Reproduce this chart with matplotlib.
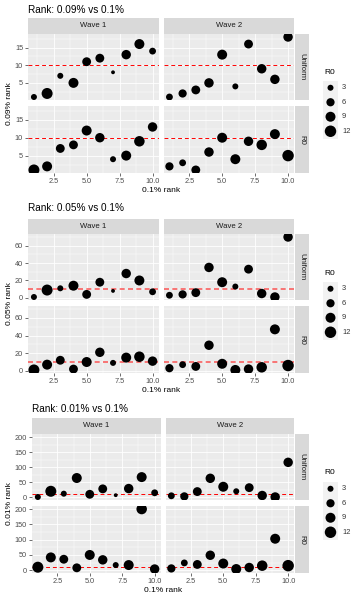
import matplotlib.pyplot as plt
import numpy as np

plt.rcParams['font.family'] = ['Liberation Sans', 'DejaVu Sans']

# data
x_rank = [1, 2, 3, 4, 5, 6, 7, 8, 9, 10]
waves = ['Wave 1', 'Wave 2']
rows = ['Uniform', 'R0']

# R0 (point size), same for all three comparisons
r0_uniform_w1 = [3, 11, 3, 9, 7, 7, 1, 8, 9, 4]
r0_uniform_w2 = [4, 6, 7, 8, 9, 3, 7, 8, 8, 8]
r0_r0_w1 = [11, 9, 7, 7, 9, 8, 3, 9, 10, 8]
r0_r0_w2 = [6, 4, 7, 8, 9, 9, 8, 10, 9, 12]

rank09_uniform_w1 = [1, 2, 7, 5, 11, 12, 8, 13, 16, 14]
rank09_uniform_w2 = [1, 2, 3, 5, 13, 4, 16, 9, 6, 18]
rank09_r0_w1 = [1, 2, 7, 8, 12, 10, 4, 5, 9, 13]
rank09_r0_w2 = [2, 3, 1, 6, 10, 4, 9, 8, 11, 5]

rank05_uniform_w1 = [1, 9, 11, 14, 4, 18, 8, 28, 20, 7]
rank05_uniform_w2 = [3, 4, 6, 35, 18, 13, 33, 5, 1, 70]
rank05_r0_w1 = [1, 7, 12, 2, 10, 21, 9, 15, 16, 11]
rank05_r0_w2 = [3, 7, 5, 29, 8, 1, 2, 4, 47, 6]

rank01_uniform_w1 = [1, 20, 12, 64, 10, 28, 7, 29, 67, 15]
rank01_uniform_w2 = [5, 3, 19, 63, 35, 20, 32, 6, 1, 116]
rank01_r0_w1 = [10, 42, 36, 8, 50, 34, 17, 17, 200, 4]
rank01_r0_w2 = [6, 24, 19, 49, 22, 4, 9, 15, 103, 15]

titles = ['Rank: 0.09% vs 0.1%', 'Rank: 0.05% vs 0.1%', 'Rank: 0.01% vs 0.1%']
ylabels = ['0.09% rank', '0.05% rank', '0.01% rank']
y_major = [[5, 10, 15], [0, 20, 40, 60], [0, 50, 100, 150, 200]]
y_minor = [[2.5, 7.5, 12.5, 17.5], [10, 30, 50, 70], [25, 75, 125, 175]]
x_major = [2.5, 5.0, 7.5, 10.0]
x_minor = [1.25, 3.75, 6.25, 8.75]
legend_values = [3, 6, 9, 12]
threshold = 10

sizes = [[r0_uniform_w1, r0_uniform_w2], [r0_r0_w1, r0_r0_w2]]
ranks = [
    [[rank09_uniform_w1, rank09_uniform_w2], [rank09_r0_w1, rank09_r0_w2]],
    [[rank05_uniform_w1, rank05_uniform_w2], [rank05_r0_w1, rank05_r0_w2]],
    [[rank01_uniform_w1, rank01_uniform_w2], [rank01_r0_w1, rank01_r0_w2]],
]

# layout of each block in pixels (from top)
layout = [
    dict(title=10, strip=18, u=(34, 100), r=(106, 173), xlab=191, left=28, leg=72),
    dict(title=208, strip=219, u=(234, 300), r=(306, 373), xlab=390, left=28, leg=273),
    dict(title=409, strip=418, u=(434, 500), r=(506, 573), xlab=591, left=32, leg=473),
]
hline_style = [
    dict(color='#FF0000', lw=0.7, alpha=1.0, ls=(0, (4, 3))),
    dict(color='#FF0000', lw=1.2, alpha=0.6, ls=(0, (3, 2))),
    dict(color='#FF0000', lw=0.7, alpha=1.0, ls=(0, (4, 3))),
]

W, H = 360, 600
fig = plt.figure(figsize=(3.6, 6.0), dpi=100)


def px_axes(x0, y0, x1, y1, **kw):
    return fig.add_axes([x0 / W, 1 - y1 / H, (x1 - x0) / W, (y1 - y0) / H], **kw)


def size_map(v):
    return 2.1 + 5.5 * np.asarray(v, dtype=float)


def blank(ax):
    ax.set_xticks([])
    ax.set_yticks([])
    for s in ax.spines.values():
        s.set_visible(False)


right_edge = 294
gap = 5
for b, lay in enumerate(layout):
    pw = (right_edge - lay['left'] - gap) / 2
    col_x = [(lay['left'], lay['left'] + pw), (lay['left'] + pw + gap, right_edge)]
    allv = np.concatenate([np.ravel(v) for v in ranks[b]])
    lo, hi = allv.min(), allv.max()
    pad = (hi - lo) * 0.05
    ylim = (lo - pad, hi + pad)
    hs = hline_style[b]

    for i, row in enumerate(rows):
        y0, y1 = lay['u'] if i == 0 else lay['r']
        for j, wave in enumerate(waves):
            x0, x1 = col_x[j]
            ax = px_axes(x0, y0, x1, y1, facecolor='#EBEBEB')
            ax.set_xlim(0.55, 10.45)
            ax.set_ylim(*ylim)
            ax.set_xticks(x_major)
            ax.set_xticks(x_minor, minor=True)
            ax.set_yticks(y_major[b])
            ax.set_yticks(y_minor[b], minor=True)
            ax.grid(True, which='major', color='white', lw=0.6)
            ax.grid(True, which='minor', color='white', lw=0.3)
            ax.set_axisbelow(True)
            for s in ax.spines.values():
                s.set_visible(False)
            ax.tick_params(which='minor', length=0)
            ax.tick_params(which='major', length=2, width=0.5, color='#333333',
                           labelsize=5.3, labelcolor='#4D4D4D', pad=1.5)
            ax.set_xticklabels(['2.5', '5.0', '7.5', '10.0'])
            if i == 0:
                ax.tick_params(axis='x', length=0, labelbottom=False)
            if j == 1:
                ax.tick_params(axis='y', length=0, labelleft=False)
            ax.axhline(threshold, color=hs['color'], lw=hs['lw'], alpha=hs['alpha'],
                       linestyle=hs['ls'], zorder=2)
            ax.scatter(x_rank, ranks[b][i][j], s=size_map(sizes[i][j]), c='black',
                       linewidths=0, zorder=3)

            # top strip
            if i == 0:
                sax = px_axes(x0, lay['strip'], x1, lay['u'][0] - 0.5, facecolor='#D9D9D9')
                blank(sax)
                sax.text(0.5, 0.5, wave, ha='center', va='center', fontsize=5.6,
                         color='#1A1A1A', transform=sax.transAxes)
        # right strip
        rax = px_axes(right_edge + 0.5, y0, right_edge + 15, y1, facecolor='#D9D9D9')
        blank(rax)
        rax.text(0.5, 0.5, row, ha='center', va='center', rotation=-90, fontsize=5.6,
                 color='#1A1A1A', transform=rax.transAxes)

    fig.text(lay['left'] / W, 1 - lay['title'] / H, titles[b], ha='left', va='center',
             fontsize=7.2, color='black')
    fig.text((lay['left'] + right_edge) / 2 / W, 1 - lay['xlab'] / H, '0.1% rank',
             ha='center', va='center', fontsize=6, color='black')
    fig.text(10 / W, 1 - (lay['u'][0] + lay['r'][1]) / 2 / H, ylabels[b], ha='center',
             va='center', rotation=90, fontsize=6, color='black')

    # legend
    fig.text(324 / W, 1 - lay['leg'] / H, 'R0', ha='left', va='center', fontsize=6)
    top = lay['leg'] + 8.5
    lax = px_axes(323, top, 338, top + 14.5 * len(legend_values), facecolor='#F2F2F2')
    lax.set_xlim(0, 1)
    lax.set_ylim(0, len(legend_values))
    blank(lax)
    ky = len(legend_values) - 0.5 - np.arange(len(legend_values))
    lax.scatter([0.5] * len(legend_values), ky, s=size_map(legend_values), c='black',
                linewidths=0, clip_on=False)
    for k, v in enumerate(legend_values):
        fig.text(342 / W, 1 - (top + 14.5 * k + 7.25) / H, str(v), ha='left', va='center',
                 fontsize=5.4, color='#333333')

fig.savefig('out.png', dpi=100)
